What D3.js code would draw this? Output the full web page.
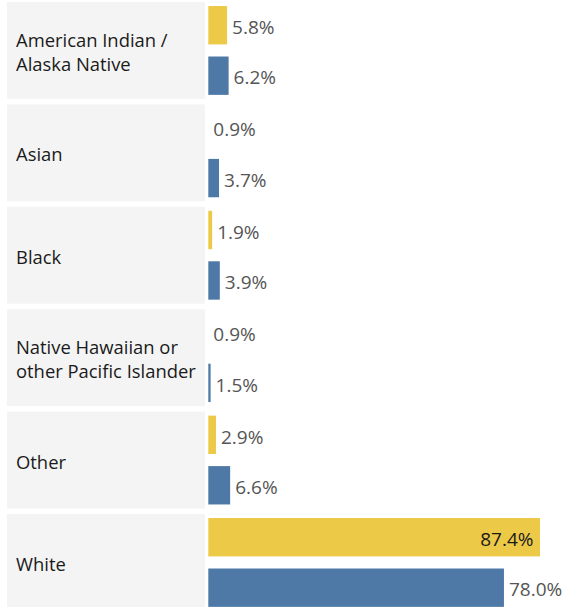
<!DOCTYPE html>
<html>
<head>
<meta charset="utf-8">
<script src="https://cdn.jsdelivr.net/npm/d3@7"></script>
<style>
  html, body { margin: 0; padding: 0; background: #ffffff; }
  svg { display: block; }
</style>
</head>
<body>
<div id="chart"></div>
<script>
// ---- data ----
const categories = [
  "American Indian / Alaska Native",
  "Asian",
  "Black",
  "Native Hawaiian or other Pacific Islander",
  "Other",
  "White"
];
const categoryLines = [
  ["American Indian /", "Alaska Native"],
  ["Asian"],
  ["Black"],
  ["Native Hawaiian or", "other Pacific Islander"],
  ["Other"],
  ["White"]
];
const seriesNames = ["Series A", "Series B"];
const seriesA = [5.8, 0.9, 1.9, 0.9, 2.9, 87.4];
const seriesB = [6.2, 3.7, 3.9, 1.5, 6.6, 78.0];
const seriesColors = ["#EDC948", "#4E79A7"];

// ---- layout ----
const W = 582, H = 607;
const svg = d3.select("#chart").append("svg")
  .attr("width", W).attr("height", H);

const rowStep = 102.4;
const rowGap = 5.5;
const y0 = d3.scaleBand()
  .domain(categories)
  .range([2, 2 + rowStep * categories.length - rowGap])
  .paddingInner(rowGap / rowStep)
  .paddingOuter(0);

const y1 = d3.scaleBand()
  .domain(seriesNames)
  .range([0, y0.bandwidth()])
  .paddingInner(0.24)
  .paddingOuter(0.08);

const x = d3.scaleLinear()
  .domain([0.9, 87.4])
  .range([208.3, 540]);

const font = "'Open Sans', 'DejaVu Sans', sans-serif";

const rows = svg.selectAll("g.row")
  .data(categories.map((c, i) => ({
    cat: c, lines: categoryLines[i],
    vals: [seriesA[i], seriesB[i]]
  })))
  .enter().append("g")
  .attr("class", "row")
  .attr("transform", d => `translate(0,${y0(d.cat)})`);

// header panel
rows.append("rect")
  .attr("x", 7).attr("y", 0)
  .attr("width", 198).attr("height", y0.bandwidth())
  .attr("fill", "#f4f4f4");

// category text
rows.each(function(d) {
  const g = d3.select(this);
  const mid = y0.bandwidth() / 2 + 8.5;
  const n = d.lines.length;
  const lh = 24.4;
  d.lines.forEach((ln, j) => {
    g.append("text")
      .attr("x", 16)
      .attr("y", mid + (j - (n - 1) / 2) * lh)
      .attr("font-family", font)
      .attr("font-size", 18.4)
      .attr("fill", "#1a1a1a")
      .text(ln);
  });
});

// bars + labels
rows.each(function(d) {
  const g = d3.select(this);
  d.vals.forEach((v, j) => {
    const s = seriesNames[j];
    const yy = y1(s);
    const bw = y1.bandwidth();
    const w = Math.max(0, x(v) - x.range()[0]);
    g.append("rect")
      .attr("x", x.range()[0])
      .attr("y", yy)
      .attr("width", w)
      .attr("height", bw)
      .attr("fill", seriesColors[j]);
    const label = d3.format(".1f")(v) + "%";
    const inside = x(v) > 520;
    g.append("text")
      .attr("x", inside ? x(v) - 6.5 : x(v) + 5)
      .attr("y", yy + bw / 2 + 8.8)
      .attr("text-anchor", inside ? "end" : "start")
      .attr("font-family", font)
      .attr("font-size", 19)
      .attr("fill", inside ? "#1a1a1a" : "#555555")
      .text(label);
  });
});
</script>
</body>
</html>
